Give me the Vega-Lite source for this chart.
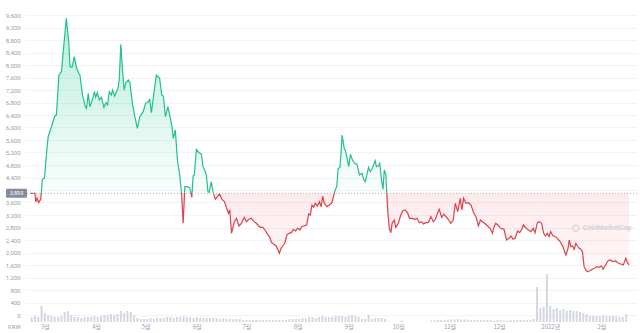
{
  "$schema": "https://vega.github.io/schema/vega-lite/v6.json",
  "width": 612,
  "height": 314,
  "autosize": {"type": "none"},
  "padding": {"left": 25, "top": 8, "right": 3, "bottom": 11},
  "background": "white",
  "config": {
    "view": {"stroke": null},
    "font": "Roboto",
    "axisX": {"grid": false, "ticks": false, "domain": false, "labelFont": "Noto Sans CJK KR", "labelFontSize": 6, "labelColor": "#9aa0aa", "labelPadding": 1.5, "labelFlush": false}
  },
  "datasets": {
    "price": [
      {"t":"2021-02-20T00:00","p":3893},{"t":"2021-02-22T00:00","p":3890},{"t":"2021-02-23T00:00","p":3900},{"t":"2021-02-23T12:00","p":3626},
      {"t":"2021-02-24T06:00","p":3734},{"t":"2021-02-25T06:00","p":3594},{"t":"2021-02-26T12:00","p":3702},{"t":"2021-02-27T12:00","p":4342},
      {"t":"2021-02-28T18:00","p":4374},{"t":"2021-03-02T00:00","p":5174},{"t":"2021-03-03T00:00","p":5706},{"t":"2021-03-05T00:00","p":6026},
      {"t":"2021-03-07T00:00","p":6368},{"t":"2021-03-08T00:00","p":6400},{"t":"2021-03-09T12:00","p":7680},{"t":"2021-03-11T00:00","p":7786},
      {"t":"2021-03-14T00:00","p":9494},{"t":"2021-03-15T12:00","p":8694},{"t":"2021-03-16T06:00","p":7946},{"t":"2021-03-17T12:00","p":7926},
      {"t":"2021-03-18T18:00","p":8266},{"t":"2021-03-20T06:00","p":7894},{"t":"2021-03-21T12:00","p":7734},{"t":"2021-03-22T06:00","p":7680},
      {"t":"2021-03-23T18:00","p":7040},{"t":"2021-03-25T12:00","p":6666},{"t":"2021-03-26T06:00","p":6614},{"t":"2021-03-27T06:00","p":7094},
      {"t":"2021-03-28T06:00","p":6666},{"t":"2021-03-29T18:00","p":6880},{"t":"2021-03-31T00:00","p":7146},{"t":"2021-03-31T18:00","p":6966},
      {"t":"2021-04-01T18:00","p":7114},{"t":"2021-04-03T00:00","p":6880},{"t":"2021-04-04T06:00","p":6966},{"t":"2021-04-05T18:00","p":6646},
      {"t":"2021-04-07T00:00","p":6794},{"t":"2021-04-08T00:00","p":6720},{"t":"2021-04-09T00:00","p":7146},{"t":"2021-04-10T06:00","p":7040},
      {"t":"2021-04-11T00:00","p":7200},{"t":"2021-04-12T06:00","p":7008},{"t":"2021-04-14T06:00","p":7254},{"t":"2021-04-15T00:00","p":7520},
      {"t":"2021-04-16T00:00","p":8662},{"t":"2021-04-17T00:00","p":7840},{"t":"2021-04-18T00:00","p":7200},{"t":"2021-04-19T00:00","p":7434},
      {"t":"2021-04-20T12:00","p":7520},{"t":"2021-04-21T12:00","p":7434},{"t":"2021-04-23T00:00","p":6774},{"t":"2021-04-24T12:00","p":6346},
      {"t":"2021-04-26T00:00","p":5974},{"t":"2021-04-27T12:00","p":6346},{"t":"2021-04-29T12:00","p":6506},{"t":"2021-05-01T00:00","p":6774},
      {"t":"2021-05-02T12:00","p":6826},{"t":"2021-05-03T12:00","p":6902},{"t":"2021-05-04T12:00","p":6474},{"t":"2021-05-06T00:00","p":7094},
      {"t":"2021-05-07T12:00","p":7680},{"t":"2021-05-09T12:00","p":7574},{"t":"2021-05-10T18:00","p":7040},{"t":"2021-05-11T18:00","p":7008},
      {"t":"2021-05-13T00:00","p":6346},{"t":"2021-05-14T12:00","p":6666},{"t":"2021-05-15T18:00","p":6346},{"t":"2021-05-17T00:00","p":6026},
      {"t":"2021-05-17T18:00","p":5654},{"t":"2021-05-19T00:00","p":5920},{"t":"2021-05-20T06:00","p":4960},{"t":"2021-05-21T12:00","p":4534},
      {"t":"2021-05-22T18:00","p":3894},{"t":"2021-05-23T18:00","p":2934},{"t":"2021-05-24T18:00","p":4106},{"t":"2021-05-26T06:00","p":4106},
      {"t":"2021-05-27T18:00","p":4074},{"t":"2021-05-29T00:00","p":3766},{"t":"2021-05-29T18:00","p":4448},{"t":"2021-05-30T12:00","p":4480},
      {"t":"2021-05-31T18:00","p":5302},{"t":"2021-06-02T06:00","p":5194},{"t":"2021-06-03T18:00","p":5152},{"t":"2021-06-04T18:00","p":4746},
      {"t":"2021-06-05T18:00","p":4640},{"t":"2021-06-06T18:00","p":4480},{"t":"2021-06-07T18:00","p":3946},{"t":"2021-06-08T12:00","p":3926},
      {"t":"2021-06-09T18:00","p":4266},{"t":"2021-06-10T18:00","p":3946},{"t":"2021-06-12T06:00","p":3702},{"t":"2021-06-13T12:00","p":3786},
      {"t":"2021-06-14T18:00","p":3872},{"t":"2021-06-16T06:00","p":3702},{"t":"2021-06-17T18:00","p":3626},{"t":"2021-06-19T06:00","p":3382},
      {"t":"2021-06-20T06:00","p":3254},{"t":"2021-06-21T00:00","p":3360},{"t":"2021-06-22T00:00","p":2614},{"t":"2021-06-23T18:00","p":2986},
      {"t":"2021-06-25T00:00","p":3094},{"t":"2021-06-26T12:00","p":2848},{"t":"2021-06-28T00:00","p":2934},{"t":"2021-06-29T18:00","p":3126},
      {"t":"2021-07-01T00:00","p":2986},{"t":"2021-07-02T12:00","p":3062},{"t":"2021-07-04T00:00","p":3094},{"t":"2021-07-05T18:00","p":2986},
      {"t":"2021-07-07T00:00","p":2934},{"t":"2021-07-08T12:00","p":2848},{"t":"2021-07-09T12:00","p":2806},{"t":"2021-07-11T00:00","p":2806},
      {"t":"2021-07-12T06:00","p":2720},{"t":"2021-07-13T12:00","p":2614},{"t":"2021-07-15T00:00","p":2506},{"t":"2021-07-16T06:00","p":2314},
      {"t":"2021-07-17T12:00","p":2272},{"t":"2021-07-19T00:00","p":2208},{"t":"2021-07-20T00:00","p":2102},{"t":"2021-07-21T00:00","p":1974},
      {"t":"2021-07-22T00:00","p":2134},{"t":"2021-07-23T00:00","p":2208},{"t":"2021-07-24T06:00","p":2294},{"t":"2021-07-25T12:00","p":2560},
      {"t":"2021-07-26T18:00","p":2614},{"t":"2021-07-28T06:00","p":2634},{"t":"2021-07-29T12:00","p":2742},{"t":"2021-07-30T18:00","p":2688},
      {"t":"2021-08-01T06:00","p":2774},{"t":"2021-08-02T12:00","p":2720},{"t":"2021-08-03T12:00","p":2826},{"t":"2021-08-04T18:00","p":2848},
      {"t":"2021-08-06T12:00","p":2880},{"t":"2021-08-07T18:00","p":3232},{"t":"2021-08-08T18:00","p":3200},{"t":"2021-08-09T18:00","p":3520},
      {"t":"2021-08-10T18:00","p":3446},{"t":"2021-08-11T18:00","p":3574},{"t":"2021-08-13T00:00","p":3488},{"t":"2021-08-14T06:00","p":3626},
      {"t":"2021-08-15T06:00","p":3466},{"t":"2021-08-16T06:00","p":3808},{"t":"2021-08-17T00:00","p":3594},{"t":"2021-08-18T18:00","p":3466},
      {"t":"2021-08-20T06:00","p":3520},{"t":"2021-08-21T18:00","p":3584},{"t":"2021-08-23T18:00","p":4000},{"t":"2021-08-24T18:00","p":4106},
      {"t":"2021-08-25T12:00","p":4662},{"t":"2021-08-26T18:00","p":4746},{"t":"2021-08-28T00:00","p":5760},{"t":"2021-08-29T06:00","p":5334},
      {"t":"2021-08-30T00:00","p":5258},{"t":"2021-08-31T00:00","p":5014},{"t":"2021-09-01T00:00","p":4746},{"t":"2021-09-02T00:00","p":5142},
      {"t":"2021-09-03T06:00","p":4960},{"t":"2021-09-04T12:00","p":4854},{"t":"2021-09-06T00:00","p":4822},{"t":"2021-09-07T12:00","p":4480},
      {"t":"2021-09-09T00:00","p":4534},{"t":"2021-09-10T00:00","p":4342},{"t":"2021-09-11T00:00","p":4266},{"t":"2021-09-12T06:00","p":4554},
      {"t":"2021-09-13T00:00","p":4726},{"t":"2021-09-14T00:00","p":4586},{"t":"2021-09-15T00:00","p":4662},{"t":"2021-09-16T00:00","p":4800},
      {"t":"2021-09-17T00:00","p":4938},{"t":"2021-09-17T18:00","p":4746},{"t":"2021-09-19T00:00","p":4768},{"t":"2021-09-19T18:00","p":4854},
      {"t":"2021-09-20T18:00","p":4374},{"t":"2021-09-21T18:00","p":4022},{"t":"2021-09-22T12:00","p":4640},{"t":"2021-09-23T12:00","p":4480},
      {"t":"2021-09-24T12:00","p":3414},{"t":"2021-09-25T12:00","p":2774},{"t":"2021-09-26T12:00","p":2634},{"t":"2021-09-27T06:00","p":2934},
      {"t":"2021-09-28T12:00","p":3040},{"t":"2021-09-29T12:00","p":2806},{"t":"2021-10-01T00:00","p":2934},{"t":"2021-10-02T12:00","p":3200},
      {"t":"2021-10-03T18:00","p":3338},{"t":"2021-10-05T06:00","p":3360},{"t":"2021-10-06T18:00","p":3254},{"t":"2021-10-07T18:00","p":3094},
      {"t":"2021-10-09T06:00","p":3094},{"t":"2021-10-11T00:00","p":3062},{"t":"2021-10-12T06:00","p":3094},{"t":"2021-10-13T18:00","p":2954},
      {"t":"2021-10-15T00:00","p":2986},{"t":"2021-10-16T06:00","p":2912},{"t":"2021-10-17T18:00","p":2954},{"t":"2021-10-19T06:00","p":2960},
      {"t":"2021-10-20T18:00","p":3146},{"t":"2021-10-22T06:00","p":2986},{"t":"2021-10-23T12:00","p":3062},{"t":"2021-10-24T18:00","p":3254},
      {"t":"2021-10-25T18:00","p":3382},{"t":"2021-10-27T06:00","p":3126},{"t":"2021-10-28T12:00","p":3222},{"t":"2021-10-30T06:00","p":3126},
      {"t":"2021-10-31T12:00","p":3040},{"t":"2021-11-01T18:00","p":2934},{"t":"2021-11-03T06:00","p":3040},{"t":"2021-11-04T12:00","p":3574},
      {"t":"2021-11-06T00:00","p":3306},{"t":"2021-11-07T12:00","p":3734},{"t":"2021-11-08T12:00","p":3360},{"t":"2021-11-09T12:00","p":3734},
      {"t":"2021-11-11T00:00","p":3574},{"t":"2021-11-12T12:00","p":3594},{"t":"2021-11-14T00:00","p":3520},{"t":"2021-11-15T18:00","p":3254},
      {"t":"2021-11-17T00:00","p":3146},{"t":"2021-11-18T12:00","p":2848},{"t":"2021-11-19T18:00","p":3040},{"t":"2021-11-21T00:00","p":2986},
      {"t":"2021-11-22T06:00","p":2934},{"t":"2021-11-24T00:00","p":2848},{"t":"2021-11-25T12:00","p":2774},{"t":"2021-11-27T00:00","p":2614},
      {"t":"2021-11-28T00:00","p":2826},{"t":"2021-11-29T00:00","p":2934},{"t":"2021-11-30T06:00","p":2880},{"t":"2021-12-02T00:00","p":2774},
      {"t":"2021-12-04T00:00","p":2742},{"t":"2021-12-05T12:00","p":2400},{"t":"2021-12-07T00:00","p":2454},{"t":"2021-12-08T06:00","p":2528},
      {"t":"2021-12-09T12:00","p":2422},{"t":"2021-12-10T18:00","p":2454},{"t":"2021-12-12T06:00","p":2688},{"t":"2021-12-13T12:00","p":2634},
      {"t":"2021-12-14T18:00","p":2742},{"t":"2021-12-15T18:00","p":2880},{"t":"2021-12-17T12:00","p":2774},{"t":"2021-12-18T18:00","p":2720},
      {"t":"2021-12-20T06:00","p":2666},{"t":"2021-12-21T18:00","p":2774},{"t":"2021-12-22T18:00","p":2624},{"t":"2021-12-24T06:00","p":2954},
      {"t":"2021-12-25T06:00","p":2986},{"t":"2021-12-26T18:00","p":2934},{"t":"2021-12-28T00:00","p":2614},{"t":"2021-12-29T00:00","p":2528},
      {"t":"2021-12-30T06:00","p":2614},{"t":"2021-12-31T06:00","p":2506},{"t":"2022-01-01T06:00","p":2666},{"t":"2022-01-02T18:00","p":2528},
      {"t":"2022-01-04T06:00","p":2506},{"t":"2022-01-05T18:00","p":2422},{"t":"2022-01-07T00:00","p":2346},{"t":"2022-01-08T18:00","p":2186},
      {"t":"2022-01-09T12:00","p":2058},{"t":"2022-01-10T12:00","p":1920},{"t":"2022-01-11T18:00","p":2134},{"t":"2022-01-12T12:00","p":2400},
      {"t":"2022-01-13T12:00","p":2186},{"t":"2022-01-14T12:00","p":2208},{"t":"2022-01-15T12:00","p":2102},{"t":"2022-01-16T12:00","p":2294},
      {"t":"2022-01-17T12:00","p":2208},{"t":"2022-01-18T12:00","p":2134},{"t":"2022-01-19T12:00","p":2102},{"t":"2022-01-20T12:00","p":2026},
      {"t":"2022-01-21T12:00","p":1546},{"t":"2022-01-22T12:00","p":1440},{"t":"2022-01-23T12:00","p":1386},{"t":"2022-01-25T00:00","p":1418},
      {"t":"2022-01-26T12:00","p":1462},{"t":"2022-01-28T00:00","p":1494},{"t":"2022-01-29T00:00","p":1546},{"t":"2022-01-30T12:00","p":1526},
      {"t":"2022-02-01T00:00","p":1568},{"t":"2022-02-02T00:00","p":1462},{"t":"2022-02-03T12:00","p":1600},{"t":"2022-02-05T00:00","p":1738},
      {"t":"2022-02-06T12:00","p":1760},{"t":"2022-02-07T18:00","p":1706},{"t":"2022-02-09T12:00","p":1728},{"t":"2022-02-11T00:00","p":1674},
      {"t":"2022-02-12T12:00","p":1632},{"t":"2022-02-13T12:00","p":1622},{"t":"2022-02-14T06:00","p":1600},{"t":"2022-02-15T18:00","p":1814},
      {"t":"2022-02-16T18:00","p":1674},{"t":"2022-02-17T18:00","p":1600}
    ],
    "vol": [
      {"t":"2021-02-21T00:00","v":50},{"t":"2021-02-23T00:00","v":60},{"t":"2021-02-25T00:00","v":50},{"t":"2021-02-27T00:00","v":160},
      {"t":"2021-03-01T00:00","v":90},{"t":"2021-03-03T00:00","v":70},{"t":"2021-03-05T00:00","v":60},{"t":"2021-03-07T00:00","v":50},
      {"t":"2021-03-09T00:00","v":50},{"t":"2021-03-11T00:00","v":60},{"t":"2021-03-13T00:00","v":100},{"t":"2021-03-15T00:00","v":110},
      {"t":"2021-03-17T00:00","v":70},{"t":"2021-03-19T00:00","v":50},{"t":"2021-03-21T00:00","v":50},{"t":"2021-03-23T00:00","v":40},
      {"t":"2021-03-25T00:00","v":50},{"t":"2021-03-27T00:00","v":50},{"t":"2021-03-29T00:00","v":50},{"t":"2021-03-31T00:00","v":60},
      {"t":"2021-04-02T00:00","v":50},{"t":"2021-04-04T00:00","v":60},{"t":"2021-04-06T00:00","v":70},{"t":"2021-04-08T00:00","v":70},
      {"t":"2021-04-10T00:00","v":80},{"t":"2021-04-12T00:00","v":70},{"t":"2021-04-14T00:00","v":80},{"t":"2021-04-16T00:00","v":110},
      {"t":"2021-04-18T00:00","v":90},{"t":"2021-04-20T00:00","v":110},{"t":"2021-04-22T00:00","v":100},{"t":"2021-04-24T00:00","v":70},
      {"t":"2021-04-26T00:00","v":40},{"t":"2021-04-28T00:00","v":30},{"t":"2021-04-30T00:00","v":30},{"t":"2021-05-02T00:00","v":30},
      {"t":"2021-05-04T00:00","v":40},{"t":"2021-05-06T00:00","v":30},{"t":"2021-05-08T00:00","v":40},{"t":"2021-05-10T00:00","v":40},
      {"t":"2021-05-12T00:00","v":40},{"t":"2021-05-14T00:00","v":50},{"t":"2021-05-16T00:00","v":50},{"t":"2021-05-18T00:00","v":40},
      {"t":"2021-05-20T00:00","v":50},{"t":"2021-05-22T00:00","v":50},{"t":"2021-05-24T00:00","v":60},{"t":"2021-05-26T00:00","v":50},
      {"t":"2021-05-28T00:00","v":50},{"t":"2021-05-30T00:00","v":40},{"t":"2021-06-01T00:00","v":50},{"t":"2021-06-03T00:00","v":40},
      {"t":"2021-06-05T00:00","v":40},{"t":"2021-06-07T00:00","v":40},{"t":"2021-06-09T00:00","v":40},{"t":"2021-06-11T00:00","v":40},
      {"t":"2021-06-13T00:00","v":40},{"t":"2021-06-15T00:00","v":30},{"t":"2021-06-17T00:00","v":40},{"t":"2021-06-19T00:00","v":30},
      {"t":"2021-06-21T00:00","v":30},{"t":"2021-06-23T00:00","v":30},{"t":"2021-06-25T00:00","v":30},{"t":"2021-06-27T00:00","v":30},
      {"t":"2021-06-29T00:00","v":20},{"t":"2021-07-01T00:00","v":20},{"t":"2021-07-03T00:00","v":20},{"t":"2021-07-05T00:00","v":20},
      {"t":"2021-07-07T00:00","v":20},{"t":"2021-07-09T00:00","v":20},{"t":"2021-07-11T00:00","v":20},{"t":"2021-07-13T00:00","v":20},
      {"t":"2021-07-15T00:00","v":20},{"t":"2021-07-17T00:00","v":20},{"t":"2021-07-19T00:00","v":20},{"t":"2021-07-21T00:00","v":20},
      {"t":"2021-07-23T00:00","v":20},{"t":"2021-07-25T00:00","v":20},{"t":"2021-07-27T00:00","v":30},{"t":"2021-07-29T00:00","v":30},
      {"t":"2021-07-31T00:00","v":30},{"t":"2021-08-02T00:00","v":30},{"t":"2021-08-04T00:00","v":40},{"t":"2021-08-06T00:00","v":40},
      {"t":"2021-08-08T00:00","v":50},{"t":"2021-08-10T00:00","v":50},{"t":"2021-08-12T00:00","v":40},{"t":"2021-08-14T00:00","v":50},
      {"t":"2021-08-16T00:00","v":60},{"t":"2021-08-18T00:00","v":50},{"t":"2021-08-20T00:00","v":50},{"t":"2021-08-22T00:00","v":50},
      {"t":"2021-08-24T00:00","v":60},{"t":"2021-08-26T00:00","v":60},{"t":"2021-08-28T00:00","v":60},{"t":"2021-08-30T00:00","v":50},
      {"t":"2021-09-01T00:00","v":60},{"t":"2021-09-03T00:00","v":70},{"t":"2021-09-05T00:00","v":60},{"t":"2021-09-07T00:00","v":50},
      {"t":"2021-09-09T00:00","v":30},{"t":"2021-09-11T00:00","v":30},{"t":"2021-09-13T00:00","v":70},{"t":"2021-09-15T00:00","v":30},
      {"t":"2021-09-17T00:00","v":40},{"t":"2021-09-19T00:00","v":40},{"t":"2021-09-21T00:00","v":40},{"t":"2021-09-23T00:00","v":30},
      {"t":"2021-09-25T00:00","v":5},{"t":"2021-10-03T00:00","v":15},
      {"t":"2021-10-21T00:00","v":15},{"t":"2021-10-23T00:00","v":15},{"t":"2021-10-25T00:00","v":20},{"t":"2021-10-27T00:00","v":20},
      {"t":"2021-10-29T00:00","v":20},{"t":"2021-10-31T00:00","v":25},{"t":"2021-11-02T00:00","v":25},{"t":"2021-11-04T00:00","v":25},
      {"t":"2021-11-06T00:00","v":30},{"t":"2021-11-08T00:00","v":25},{"t":"2021-11-10T00:00","v":25},{"t":"2021-11-12T00:00","v":25},
      {"t":"2021-11-14T00:00","v":20},{"t":"2021-11-16T00:00","v":20},{"t":"2021-11-18T00:00","v":20},{"t":"2021-11-20T00:00","v":20},
      {"t":"2021-11-22T00:00","v":20},{"t":"2021-11-24T00:00","v":20},{"t":"2021-11-26T00:00","v":20},{"t":"2021-11-28T00:00","v":15},
      {"t":"2021-11-30T00:00","v":20},{"t":"2021-12-02T00:00","v":20},{"t":"2021-12-04T00:00","v":15},{"t":"2021-12-06T00:00","v":15},
      {"t":"2021-12-08T00:00","v":20},{"t":"2021-12-10T00:00","v":20},{"t":"2021-12-12T00:00","v":20},{"t":"2021-12-14T00:00","v":20},
      {"t":"2021-12-16T00:00","v":20},{"t":"2021-12-18T00:00","v":20},{"t":"2021-12-20T00:00","v":20},{"t":"2021-12-22T00:00","v":30},
      {"t":"2021-12-24T00:00","v":350},{"t":"2021-12-26T00:00","v":140},{"t":"2021-12-28T00:00","v":150},{"t":"2021-12-30T00:00","v":480},
      {"t":"2022-01-01T00:00","v":160},{"t":"2022-01-03T00:00","v":130},{"t":"2022-01-05T00:00","v":140},{"t":"2022-01-07T00:00","v":120},
      {"t":"2022-01-09T00:00","v":130},{"t":"2022-01-11T00:00","v":110},{"t":"2022-01-13T00:00","v":120},{"t":"2022-01-15T00:00","v":110},
      {"t":"2022-01-17T00:00","v":110},{"t":"2022-01-19T00:00","v":100},{"t":"2022-01-21T00:00","v":90},{"t":"2022-01-23T00:00","v":80},
      {"t":"2022-01-25T00:00","v":60},{"t":"2022-01-27T00:00","v":60},{"t":"2022-01-29T00:00","v":60},{"t":"2022-01-31T00:00","v":60},
      {"t":"2022-02-02T00:00","v":70},{"t":"2022-02-04T00:00","v":60},{"t":"2022-02-06T00:00","v":60},{"t":"2022-02-08T00:00","v":60},
      {"t":"2022-02-10T00:00","v":60},{"t":"2022-02-12T00:00","v":50},{"t":"2022-02-14T00:00","v":50},{"t":"2022-02-16T00:00","v":80}
    ],
    "one": [{}]
  },
  "resolve": {"scale": {"y": "independent"}},
  "layer": [
    {
      "data": {"name": "vol"},
      "mark": {"type": "bar", "size": 2, "color": "#d3d8e2"},
      "encoding": {
        "x": {"field": "t", "type": "temporal", "title": null,
              "scale": {"domain": [{"year": 2021, "month": 2, "date": 20}, {"year": 2022, "month": 2, "date": 19, "hours": 12}]},
              "axis": {"tickCount": {"interval": "month", "step": 1}, "labelExpr": "month(datum.value) == 0 ? year(datum.value) + '년' : (month(datum.value) + 1) + '월'"}},
        "y": {"field": "v", "type": "quantitative", "scale": {"domain": [0, 3140]}, "axis": null}
      }
    },
    {
      "layer": [
        {
          "data": {"name": "price"},
          "mark": {"type": "area", "line": false,
                   "fill": {"gradient": "linear", "x1": 0, "y1": 0, "x2": 0, "y2": 1,
                            "stops": [{"offset": 0, "color": "rgba(22,199,132,0.30)"}, {"offset": 0.6908, "color": "rgba(22,199,132,0.02)"},
                                      {"offset": 0.6908, "color": "rgba(234,57,67,0.10)"}, {"offset": 1, "color": "rgba(234,57,67,0.04)"}]}},
          "encoding": {
            "x": {"field": "t", "type": "temporal", "title": null,
                  "axis": {"tickCount": {"interval": "month", "step": 1}, "labelExpr": "month(datum.value) == 0 ? year(datum.value) + '년' : (month(datum.value) + 1) + '월'"}},
            "y": {"field": "p", "type": "quantitative", "title": "KRW",
                  "scale": {"domain": [-224, 9824], "nice": false, "zero": false},
                  "axis": {"orient": "left", "tickCount": 40, "values": [0,400,800,1200,1600,2000,2400,2800,3200,3600,4000,4400,4800,5200,5600,6000,6400,6800,7200,7600,8000,8400,8800,9200,9600],
                           "format": ",d", "grid": true, "gridColor": "#f1f2f4", "gridWidth": 1, "domain": false, "ticks": false, "labelOverlap": false,
                           "labelColor": "#9aa0aa", "labelFontSize": 6, "labelPadding": 5, "labelFont": "Roboto",
                           "titleFontSize": 6, "titleColor": "#9aa0aa", "titleFontWeight": "normal", "titleFont": "Roboto",
                           "titleAngle": 0, "titleX": -11, "titleY": 318, "titleAlign": "center", "titleBaseline": "middle"}},
            "y2": {"datum": 3893}
          }
        },
        {
          "data": {"name": "price"},
          "mark": {"type": "line", "strokeWidth": 1.2,
                   "stroke": {"gradient": "linear", "x1": 0, "y1": 0, "x2": 0, "y2": 1,
                              "stops": [{"offset": 0, "color": "#22c08a"}, {"offset": 0.6908, "color": "#22c08a"},
                                        {"offset": 0.6908, "color": "#e03f4a"}, {"offset": 1, "color": "#e03f4a"}]}},
          "encoding": {
            "x": {"field": "t", "type": "temporal", "title": null},
            "y": {"field": "p", "type": "quantitative", "title": "KRW"}
          }
        },
        {
          "data": {"name": "one"},
          "mark": {"type": "rule", "color": "#b4b8c0", "strokeDash": [1, 2], "strokeWidth": 1},
          "encoding": {"y": {"datum": 3893}}
        },
        {
          "data": {"name": "one"},
          "mark": {"type": "rect", "color": "#858d9c", "xOffset": -24, "x2Offset": -3, "yOffset": -4.5, "y2Offset": 4.5, "cornerRadius": 1},
          "encoding": {
            "x": {"datum": {"year": 2021, "month": 2, "date": 20}, "type": "temporal"},
            "x2": {"datum": {"year": 2021, "month": 2, "date": 20}},
            "y": {"datum": 3893},
            "y2": {"datum": 3893}
          }
        },
        {
          "data": {"name": "one"},
          "mark": {"type": "text", "text": "3,893", "color": "white", "fontSize": 5.5, "font": "Roboto", "align": "center", "baseline": "middle", "dx": -13.5},
          "encoding": {
            "x": {"datum": {"year": 2021, "month": 2, "date": 20}, "type": "temporal"},
            "y": {"datum": 3893}
          }
        },
        {
          "data": {"name": "one"},
          "mark": {"type": "point", "shape": "circle", "filled": false, "stroke": "#d0d3d9", "strokeWidth": 1.2, "size": 40, "opacity": 0.9},
          "encoding": {
            "x": {"datum": {"year": 2022, "month": 1, "date": 16, "hours": 14}, "type": "temporal"},
            "y": {"datum": 2774}
          }
        },
        {
          "data": {"name": "one"},
          "mark": {"type": "text", "text": "CoinMarketCap", "color": "#d0d3d9", "fontSize": 7, "fontWeight": "bold", "font": "Roboto", "align": "left", "baseline": "middle"},
          "encoding": {
            "x": {"datum": {"year": 2022, "month": 1, "date": 20, "hours": 17}, "type": "temporal"},
            "y": {"datum": 2774}
          }
        }
      ]
    }
  ]
}
